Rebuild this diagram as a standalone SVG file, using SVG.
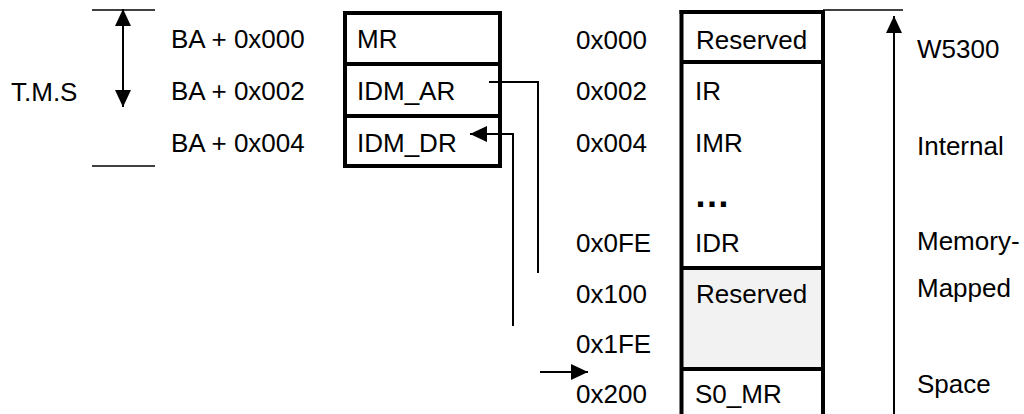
<svg xmlns="http://www.w3.org/2000/svg" width="1024" height="414" viewBox="0 0 1024 414">
<style>
text{font-family:"Liberation Sans",Arial,sans-serif;font-size:26px;fill:#000}
.thin{stroke:#000;stroke-width:1.5;fill:none}
.conn{stroke:#000;stroke-width:2;fill:none}
.box{stroke:#000;stroke-width:4;fill:none}
</style>
<defs>
<marker id="ah" markerUnits="userSpaceOnUse" markerWidth="17" markerHeight="16" viewBox="0 0 17 16" refX="17" refY="8" orient="auto-start-reverse">
<path d="M0,0 L17,8 L0,16 z" fill="#000"/>
</marker>
</defs>
<rect width="1024" height="414" fill="#fff"/>

<g id="tms">
<line class="thin" x1="92" y1="10" x2="155" y2="10"/>
<line class="thin" x1="92" y1="166" x2="155" y2="166"/>
<line class="conn" x1="123" y1="9" x2="123" y2="107" marker-start="url(#ah)" marker-end="url(#ah)"/>
<text x="11" y="101">T.M.S</text>
</g>

<g id="ba-labels">
<text x="171" y="48">BA + 0x000</text>
<text x="171" y="100">BA + 0x002</text>
<text x="171" y="152">BA + 0x004</text>
</g>

<g id="host-regs">
<rect class="box" x="345" y="13" width="155" height="153"/>
<line class="box" x1="345" y1="64" x2="500" y2="64"/>
<line class="box" x1="345" y1="116" x2="500" y2="116"/>
<text x="357" y="48">MR</text>
<text x="357" y="100">IDM_AR</text>
<text x="357" y="152">IDM_DR</text>
</g>

<g id="addr-labels">
<text x="576" y="49">0x000</text>
<text x="576" y="100">0x002</text>
<text x="576" y="152">0x004</text>
<text x="576" y="252">0x0FE</text>
<text x="576" y="303">0x100</text>
<text x="576" y="353">0x1FE</text>
<text x="576" y="403">0x200</text>
</g>

<g id="memory-map">
<rect x="683" y="270" width="138" height="97" fill="#f2f2f2"/>
<line class="box" x1="679.5" y1="12" x2="825" y2="12"/>
<line class="box" x1="681.5" y1="10" x2="681.5" y2="420"/>
<line class="box" x1="823" y1="10" x2="823" y2="420"/>
<line class="box" x1="681.5" y1="62" x2="823" y2="62"/>
<line class="box" x1="681.5" y1="268" x2="823" y2="268"/>
<line class="box" x1="681.5" y1="369" x2="823" y2="369"/>
<text x="696" y="49">Reserved</text>
<text x="695" y="100">IR</text>
<text x="695" y="152">IMR</text>
<text x="694" y="207" style="font-size:36px;font-weight:bold">…</text>
<text x="695" y="252">IDR</text>
<text x="696" y="303">Reserved</text>
<text x="695" y="403">S0_MR</text>
</g>

<g id="w5300-space">
<line class="thin" x1="823" y1="10" x2="903" y2="10"/>
<line class="conn" x1="894" y1="414" x2="894" y2="16" marker-end="url(#ah)"/>
<text x="917" y="58">W5300</text>
<text x="917" y="155">Internal</text>
<text x="917" y="250">Memory-</text>
<text x="917" y="297">Mapped</text>
<text x="917" y="393">Space</text>
</g>

<g id="connectors">
<polyline class="conn" points="489,82 538,82 538,273"/>
<polyline class="conn" points="513,326 513,134 470,134" marker-end="url(#ah)"/>
<line class="conn" x1="540" y1="372" x2="588" y2="372" marker-end="url(#ah)"/>
</g>
</svg>
